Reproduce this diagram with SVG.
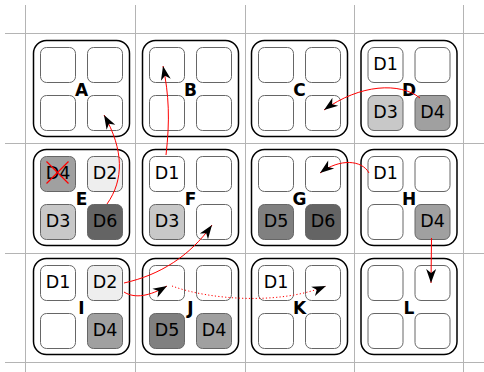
<svg xmlns="http://www.w3.org/2000/svg" width="484" height="372" viewBox="0 0 484 372">
<style>
.grid{stroke:#b4b4b4;stroke-width:1;fill:none}
.node{fill:#fff;stroke:#000;stroke-width:1.5}
.cell{fill:#fff;stroke:#666;stroke-width:1}
.d2{fill:#eeeeee}.d3{fill:#c8c8c8}.d4{fill:#a0a0a0}.d5{fill:#808080}.d6{fill:#646464}
.lbl{font-family:"DejaVu Sans",sans-serif;font-weight:bold;font-size:17px;text-anchor:middle;fill:#000}
.ct{font-family:"DejaVu Sans",sans-serif;font-size:17.5px;text-anchor:middle;fill:#000}
.arr{fill:none;stroke:#ff0000;stroke-width:1;marker-end:url(#ah)}
.dot{fill:none;stroke:#ff0000;stroke-width:1;stroke-dasharray:1.2,2.2;marker-end:url(#ah)}
</style>
<defs>
<marker id="ah" markerUnits="userSpaceOnUse" markerWidth="16" markerHeight="12" refX="14" refY="6" orient="auto" overflow="visible">
<path d="M14,6 L0,1 L4,6 L0,11 Z" fill="#000"/>
</marker>
</defs>
<g id="grid" class="grid">
<line x1="25.5" y1="5" x2="25.5" y2="372"/>
<line x1="135.5" y1="5" x2="135.5" y2="372"/>
<line x1="245.5" y1="5" x2="245.5" y2="372"/>
<line x1="354.5" y1="5" x2="354.5" y2="372"/>
<line x1="463.5" y1="5" x2="463.5" y2="372"/>
<line x1="5" y1="33.5" x2="484" y2="33.5"/>
<line x1="5" y1="143.5" x2="484" y2="143.5"/>
<line x1="5" y1="253.5" x2="484" y2="253.5"/>
<line x1="5" y1="362.5" x2="484" y2="362.5"/>
</g>
<g id="A" transform="translate(33.5,40.5)">
<rect class="node" width="96" height="96" rx="13"/>
<rect class="cell" x="7" y="7" width="35" height="35" rx="6"/>
<rect class="cell" x="54" y="7" width="35" height="35" rx="6"/>
<rect class="cell" x="7" y="55" width="35" height="35" rx="6"/>
<rect class="cell" x="54" y="55" width="35" height="35" rx="6"/>
<text class="lbl" x="48" y="55">A</text>
</g>
<g id="B" transform="translate(142.5,40.5)">
<rect class="node" width="96" height="96" rx="13"/>
<rect class="cell" x="7" y="7" width="35" height="35" rx="6"/>
<rect class="cell" x="54" y="7" width="35" height="35" rx="6"/>
<rect class="cell" x="7" y="55" width="35" height="35" rx="6"/>
<rect class="cell" x="54" y="55" width="35" height="35" rx="6"/>
<text class="lbl" x="48" y="55">B</text>
</g>
<g id="C" transform="translate(251.5,40.5)">
<rect class="node" width="96" height="96" rx="13"/>
<rect class="cell" x="7" y="7" width="35" height="35" rx="6"/>
<rect class="cell" x="54" y="7" width="35" height="35" rx="6"/>
<rect class="cell" x="7" y="55" width="35" height="35" rx="6"/>
<rect class="cell" x="54" y="55" width="35" height="35" rx="6"/>
<text class="lbl" x="48" y="55">C</text>
</g>
<g id="D" transform="translate(361,40.5)">
<rect class="node" width="96" height="96" rx="13"/>
<rect class="cell" x="7" y="7" width="35" height="35" rx="6"/>
<rect class="cell" x="54" y="7" width="35" height="35" rx="6"/>
<rect class="cell d3" x="7" y="55" width="35" height="35" rx="6"/>
<rect class="cell d4" x="54" y="55" width="35" height="35" rx="6"/>
<text class="ct" x="24.5" y="29">D1</text>
<text class="ct" x="24.5" y="77">D3</text>
<text class="ct" x="71.5" y="77">D4</text>
<text class="lbl" x="48" y="55">D</text>
</g>
<g id="E" transform="translate(33.5,149.5)">
<rect class="node" width="96" height="96" rx="13"/>
<rect class="cell d4" x="7" y="7" width="35" height="35" rx="6"/>
<rect class="cell d2" x="54" y="7" width="35" height="35" rx="6"/>
<rect class="cell d3" x="7" y="55" width="35" height="35" rx="6"/>
<rect class="cell d6" x="54" y="55" width="35" height="35" rx="6"/>
<text class="ct" x="24.5" y="29">D4</text>
<text class="ct" x="71.5" y="29">D2</text>
<text class="ct" x="24.5" y="77">D3</text>
<text class="ct" x="71.5" y="77">D6</text>
<text class="lbl" x="48" y="55">E</text>
<path d="M13,12 L35,34 M35,12 L13,34" stroke="#ff0000" stroke-width="1.2" fill="none"/>
</g>
<g id="F" transform="translate(142.5,149.5)">
<rect class="node" width="96" height="96" rx="13"/>
<rect class="cell" x="7" y="7" width="35" height="35" rx="6"/>
<rect class="cell" x="54" y="7" width="35" height="35" rx="6"/>
<rect class="cell d3" x="7" y="55" width="35" height="35" rx="6"/>
<rect class="cell" x="54" y="55" width="35" height="35" rx="6"/>
<text class="ct" x="24.5" y="29">D1</text>
<text class="ct" x="24.5" y="77">D3</text>
<text class="lbl" x="48" y="55">F</text>
</g>
<g id="G" transform="translate(251.5,149.5)">
<rect class="node" width="96" height="96" rx="13"/>
<rect class="cell" x="7" y="7" width="35" height="35" rx="6"/>
<rect class="cell" x="54" y="7" width="35" height="35" rx="6"/>
<rect class="cell d5" x="7" y="55" width="35" height="35" rx="6"/>
<rect class="cell d6" x="54" y="55" width="35" height="35" rx="6"/>
<text class="ct" x="24.5" y="77">D5</text>
<text class="ct" x="71.5" y="77">D6</text>
<text class="lbl" x="48" y="55">G</text>
</g>
<g id="H" transform="translate(361,149.5)">
<rect class="node" width="96" height="96" rx="13"/>
<rect class="cell" x="7" y="7" width="35" height="35" rx="6"/>
<rect class="cell" x="54" y="7" width="35" height="35" rx="6"/>
<rect class="cell" x="7" y="55" width="35" height="35" rx="6"/>
<rect class="cell d4" x="54" y="55" width="35" height="35" rx="6"/>
<text class="ct" x="24.5" y="29">D1</text>
<text class="ct" x="71.5" y="77">D4</text>
<text class="lbl" x="48" y="55">H</text>
</g>
<g id="I" transform="translate(33.5,258.5)">
<rect class="node" width="96" height="96" rx="13"/>
<rect class="cell" x="7" y="7" width="35" height="35" rx="6"/>
<rect class="cell d2" x="54" y="7" width="35" height="35" rx="6"/>
<rect class="cell" x="7" y="55" width="35" height="35" rx="6"/>
<rect class="cell d4" x="54" y="55" width="35" height="35" rx="6"/>
<text class="ct" x="24.5" y="29">D1</text>
<text class="ct" x="71.5" y="29">D2</text>
<text class="ct" x="71.5" y="77">D4</text>
<text class="lbl" x="48" y="55">I</text>
</g>
<g id="J" transform="translate(142.5,258.5)">
<rect class="node" width="96" height="96" rx="13"/>
<rect class="cell" x="7" y="7" width="35" height="35" rx="6"/>
<rect class="cell" x="54" y="7" width="35" height="35" rx="6"/>
<rect class="cell d5" x="7" y="55" width="35" height="35" rx="6"/>
<rect class="cell d4" x="54" y="55" width="35" height="35" rx="6"/>
<text class="ct" x="24.5" y="77">D5</text>
<text class="ct" x="71.5" y="77">D4</text>
<text class="lbl" x="48" y="55">J</text>
</g>
<g id="K" transform="translate(251.5,258.5)">
<rect class="node" width="96" height="96" rx="13"/>
<rect class="cell" x="7" y="7" width="35" height="35" rx="6"/>
<rect class="cell" x="54" y="7" width="35" height="35" rx="6"/>
<rect class="cell" x="7" y="55" width="35" height="35" rx="6"/>
<rect class="cell" x="54" y="55" width="35" height="35" rx="6"/>
<text class="ct" x="24.5" y="29">D1</text>
<text class="lbl" x="48" y="55">K</text>
</g>
<g id="L" transform="translate(361,258.5)">
<rect class="node" width="96" height="96" rx="13"/>
<rect class="cell" x="7" y="7" width="35" height="35" rx="6"/>
<rect class="cell" x="54" y="7" width="35" height="35" rx="6"/>
<rect class="cell" x="7" y="55" width="35" height="35" rx="6"/>
<rect class="cell" x="54" y="55" width="35" height="35" rx="6"/>
<text class="lbl" x="48" y="55">L</text>
</g>
<g id="connectors">
<path class="arr" d="M107,204 C124,180 124,150 104,115"/>
<path class="arr" d="M166,155 C170,120 169,95 163,66"/>
<path class="arr" d="M420,98 C400,82 360,84 324,110"/>
<path class="arr" d="M369,173 C362,160 340,158 320,173"/>
<path class="arr" d="M124,283 C160,275 190,256 212,225"/>
<path class="arr" d="M124,292 C135,299 150,296 167,286"/>
<path class="dot" d="M172,286 C210,300 280,305 326,286"/>
<path class="arr" d="M431.5,238 L431,283"/>
</g>
</svg>
